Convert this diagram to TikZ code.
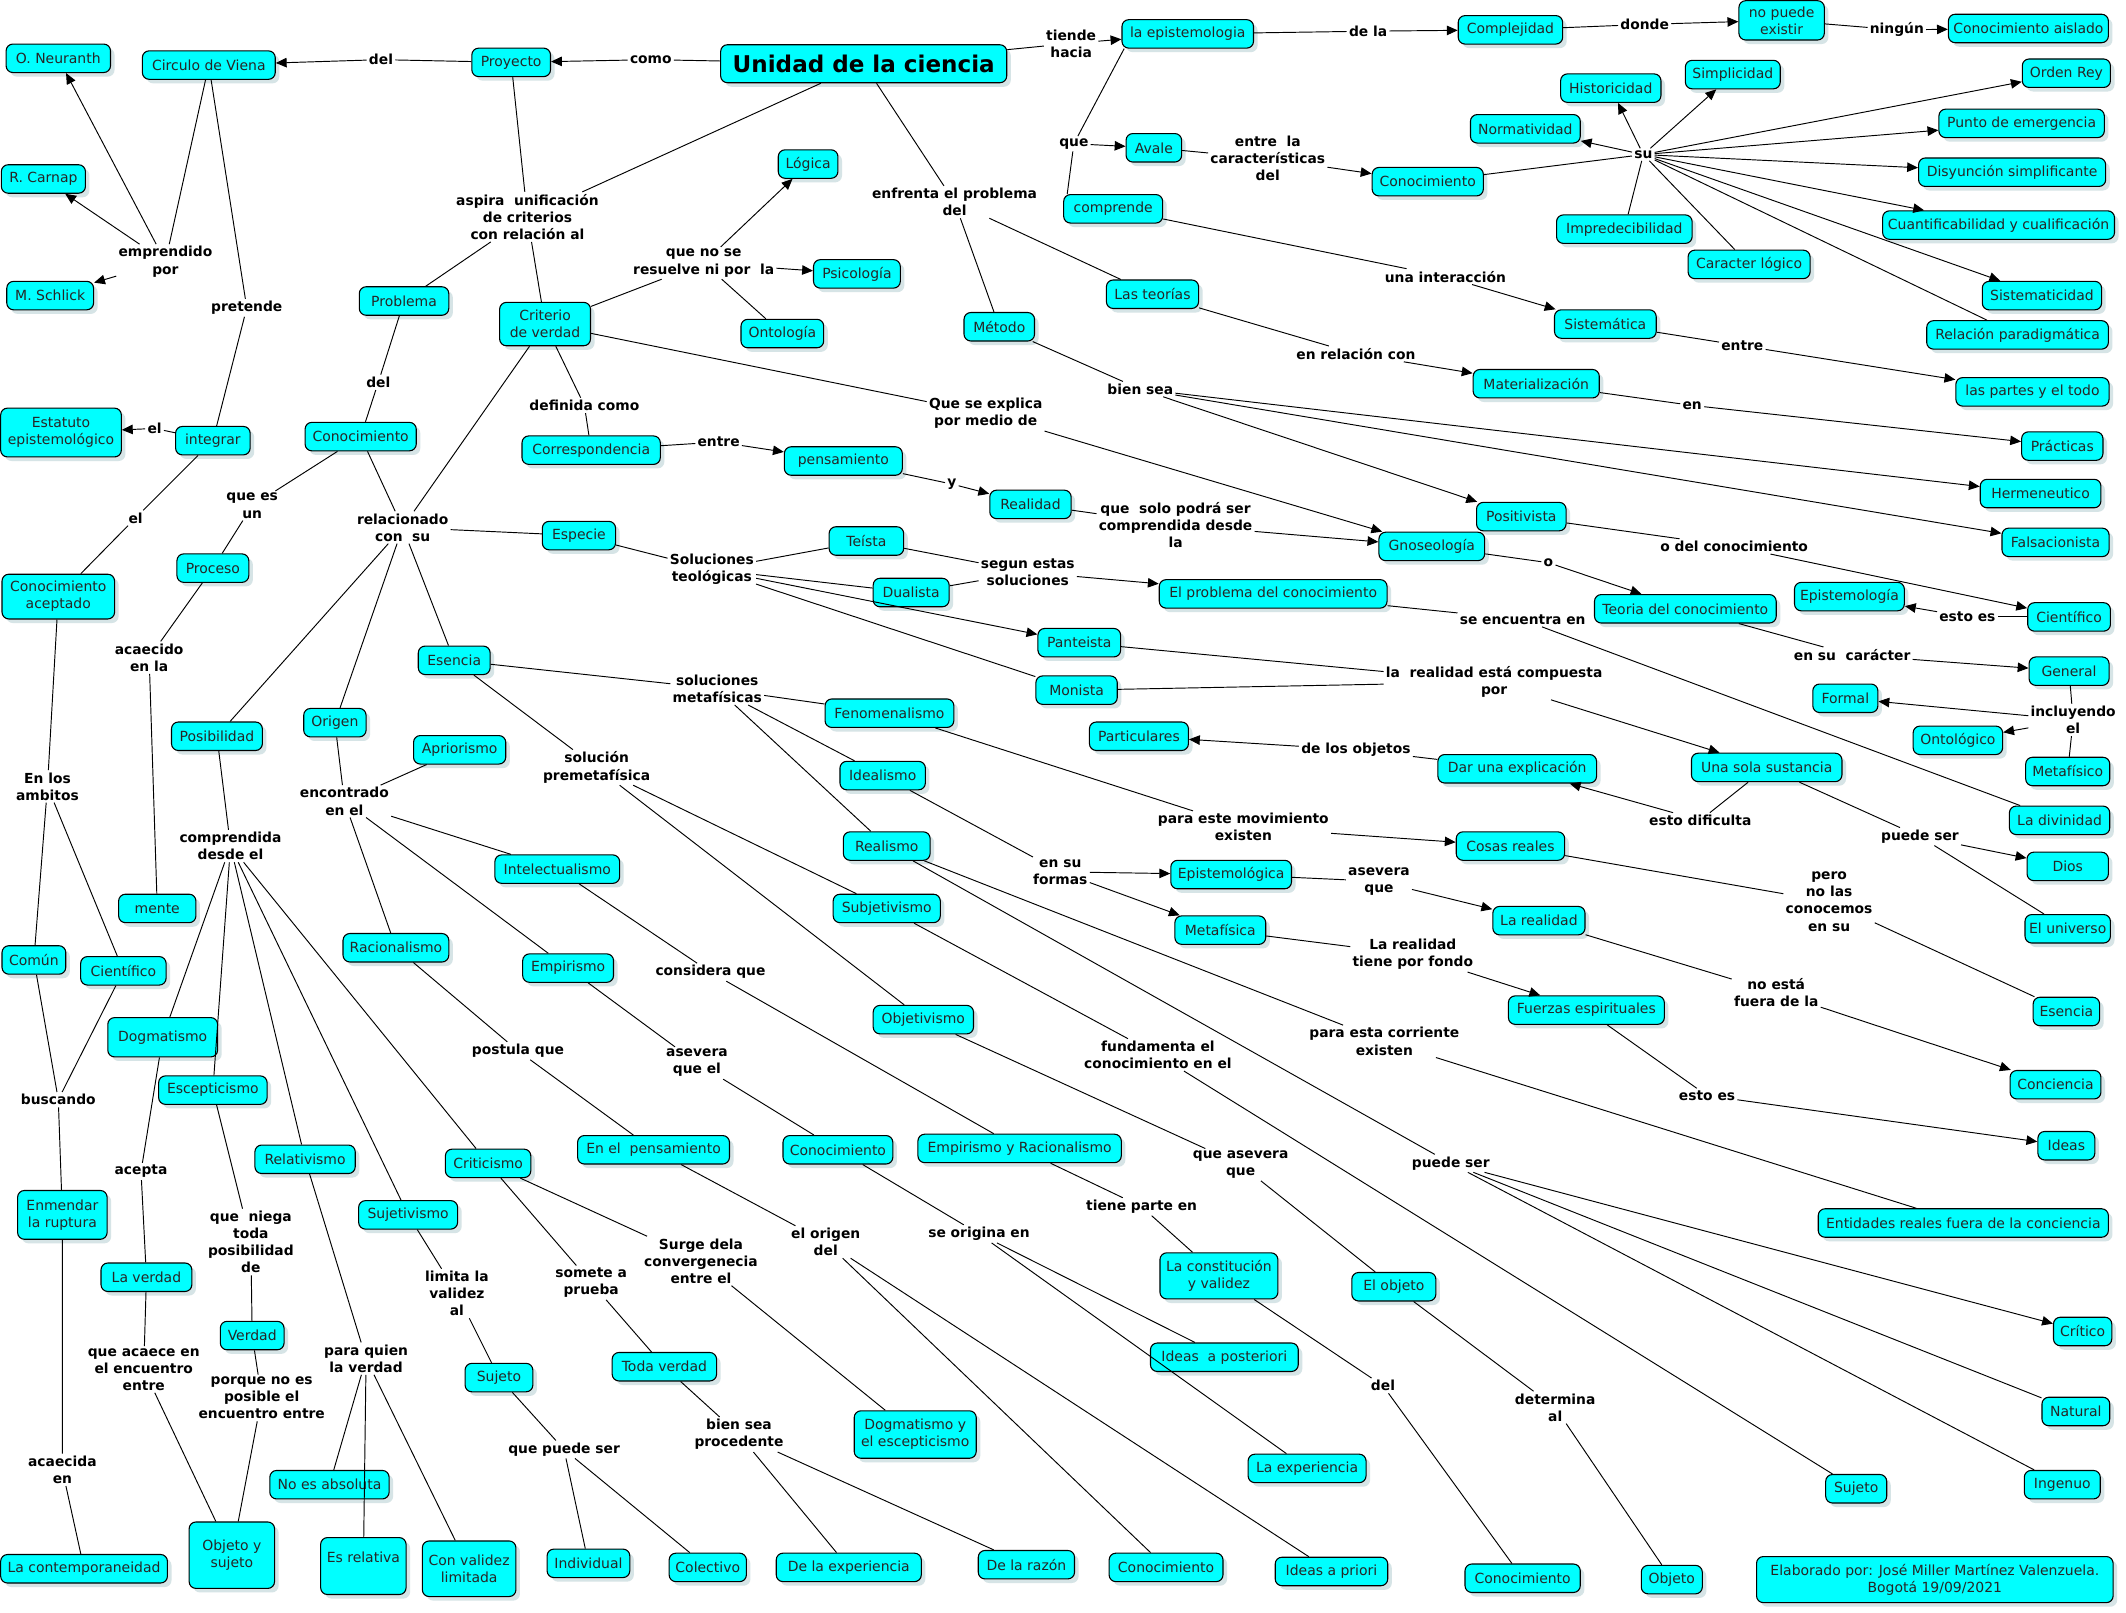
\documentclass[tikz,border=0pt]{standalone}
\usepackage{fontspec}
\setmainfont{DejaVu Sans}
\usetikzlibrary{arrows.meta,shadows}
\definecolor{conc}{RGB}{0,255,255}
\definecolor{sombra}{RGB}{214,228,230}

\begin{document}
\begin{tikzpicture}[x=1pt,y=-1pt,
    concepto/.style={draw=black,line width=0.8pt,fill=conc,rounded corners=5pt,
      font=\fontsize{10.3}{12.6}\selectfont,text=black!85,align=center,
      inner xsep=3pt,inner ysep=2pt,minimum height=21pt,
      drop shadow={shadow xshift=3pt,shadow yshift=-3pt,fill=sombra,opacity=1}},
    frase/.style={font=\fontsize{10.2}{12.6}\selectfont\bfseries,align=center,inner sep=1.5pt},
    linea/.style={line width=0.7pt},
    flecha/.style={line width=0.7pt,-{Triangle[length=8pt,width=7pt]}}]
    \fill[white] (0,0) rectangle (1568,1189);
    \useasboundingbox (0,0) rectangle (1568,1189);

    % Top: unidad, proyecto, circulo
    \node[concepto,font=\fontsize{17}{20}\selectfont\bfseries,text=black,minimum width=211pt,minimum height=28pt] (unidad) at (637,47) {Unidad de la ciencia};
    \node[concepto,minimum width=58pt] (proyecto) at (377,46) {Proyecto};
    \node[concepto,minimum width=98pt] (circulo) at (154,48) {Circulo de Viena};
    \node[concepto,minimum width=77pt] (neuranth) at (43,43) {O. Neuranth};
    \node[concepto,minimum width=62pt] (carnap) at (32,132) {R. Carnap};
    \node[concepto,minimum width=64pt] (schlick) at (37,218) {M. Schlick};
    \node[concepto,minimum width=89pt,minimum height=36pt] (estatuto) at (45,319) {Estatuto\\epistemológico};
    \node[concepto,minimum width=55pt] (integrar) at (157,325) {integrar};
    \node[concepto,minimum width=83pt,minimum height=33pt] (aceptado) at (43,440) {Conocimiento\\aceptado};
    \node[concepto,minimum width=47pt] (comun) at (25,708) {Común};
    \node[concepto,minimum width=63pt] (cientA) at (91,716) {Científico};
    \node[concepto,minimum width=66pt,minimum height=36pt] (enmendar) at (46,896) {Enmendar\\la ruptura};
    \node[concepto,minimum width=123pt] (contemp) at (62,1157) {La contemporaneidad};

    \node[frase] (del1) at (281,44) {del};
    \node[frase] (como) at (480,44) {como};
    \node[frase] (emprendido) at (122,193) {emprendido\\por};
    \node[frase] (pretende) at (182,227) {pretende};
    \node[frase] (el1) at (114,316) {el};
    \node[frase] (el2) at (100,382) {el};
    \node[frase] (ambitos) at (35,580) {En los\\ambitos};
    \node[frase] (buscando) at (43,811) {buscando};
    \node[frase] (acaecida) at (46,1084) {acaecida\\en};

    \draw[linea] (unidad) -- (como);
    \draw[flecha] (como) -- (proyecto);
    \draw[linea] (proyecto) -- (del1);
    \draw[flecha] (del1) -- (circulo);
    \draw[linea] (circulo) -- (emprendido);
    \draw[flecha] (emprendido) -- (neuranth);
    \draw[flecha] (emprendido) -- (carnap);
    \draw[flecha] (emprendido) -- (schlick);
    \draw[linea] (circulo) -- (pretende) -- (integrar);
    \draw[linea] (integrar) -- (el1);
    \draw[flecha] (el1) -- (estatuto);
    \draw[linea] (integrar) -- (el2) -- (aceptado);
    \draw[linea] (aceptado) -- (ambitos);
    \draw[linea] (ambitos) -- (comun);
    \draw[linea] (ambitos) -- (cientA);
    \draw[linea] (comun) -- (buscando);
    \draw[linea] (cientA) -- (buscando);
    \draw[linea] (buscando) -- (enmendar) -- (acaecida) -- (contemp);

    % Criterio de verdad y conocimiento
    \node[concepto,minimum width=66pt] (problema) at (298,222) {Problema};
    \node[concepto,minimum width=67pt,minimum height=32pt] (criterio) at (402,239) {Criterio\\de verdad};
    \node[concepto,minimum width=82pt] (conocL) at (266,322) {Conocimiento};
    \node[concepto,minimum width=53pt] (proceso) at (157,419) {Proceso};
    \node[concepto,minimum width=57pt] (mente) at (116,670) {mente};
    \node[concepto,minimum width=44pt] (logica) at (596,121) {Lógica};
    \node[concepto,minimum width=64pt] (psicologia) at (632,202) {Psicología};
    \node[concepto,minimum width=61pt] (ontologia) at (577,246) {Ontología};
    \node[concepto,minimum width=102pt] (corresp) at (436,332) {Correspondencia};
    \node[concepto,minimum width=87pt] (pensamiento) at (622,340) {pensamiento};
    \node[concepto,minimum width=60pt] (realidad) at (760,372) {Realidad};

    \node[frase] (aspira) at (389,160) {aspira\ \ unificación\\de criterios\\con relación al};
    \node[frase] (del2) at (279,282) {del};
    \node[frase] (quees) at (186,373) {que es\\un};
    \node[frase] (acaecido) at (110,485) {acaecido\\en la};
    \node[frase] (noresuelve) at (519,194) {que no se\\resuelve ni por\ \ la};
    \node[frase] (definida) at (431,299) {definida como};
    \node[frase] (entre1) at (530,326) {entre};
    \node[frase] (ly) at (702,357) {y};
    \node[frase] (seexplica) at (727,305) {Que se explica\\por medio de};
    \node[frase] (solopodra) at (867,387) {que\ \ solo podrá ser\\comprendida desde\\la};
    \node[frase] (relacionado) at (297,389) {relacionado\\con\ \ su};

    \draw[linea] (unidad) -- (aspira);
    \draw[linea] (proyecto) -- (aspira);
    \draw[linea] (aspira) -- (problema);
    \draw[linea] (aspira) -- (criterio);
    \draw[linea] (problema) -- (del2) -- (conocL);
    \draw[linea] (conocL) -- (quees) -- (proceso) -- (acaecido) -- (mente);
    \draw[linea] (criterio) -- (noresuelve);
    \draw[flecha] (noresuelve) -- (logica);
    \draw[flecha] (noresuelve) -- (psicologia);
    \draw[linea] (noresuelve) -- (ontologia);
    \draw[linea] (criterio) -- (definida) -- (corresp) -- (entre1);
    \draw[flecha] (entre1) -- (pensamiento);
    \draw[linea] (pensamiento) -- (ly);
    \draw[flecha] (ly) -- (realidad);
    \draw[linea] (criterio) -- (seexplica);
    \draw[linea] (realidad) -- (solopodra);
    \draw[linea] (conocL) -- (relacionado);
    \draw[linea] (criterio) -- (relacionado);

    % Arriba a la derecha: epistemologia y complejidad
    \node[concepto,minimum width=97pt] (epistemologia) at (876,25) {la epistemologia};
    \node[concepto,minimum width=77pt] (complejidad) at (1114,22) {Complejidad};
    \node[concepto,minimum width=63pt,minimum height=29pt] (nopuede) at (1314,15) {no puede\\existir};
    \node[concepto,minimum width=118pt] (aislado) at (1496,21) {Conocimiento aislado};
    \node[concepto,minimum width=41pt] (avale) at (851,109) {Avale};
    \node[concepto,minimum width=73pt] (comprende) at (821,154) {comprende};
    \node[concepto,minimum width=82pt] (conocR) at (1053,134) {Conocimiento};
    \node[concepto,minimum width=74pt] (historicidad) at (1188,65) {Historicidad};
    \node[concepto,minimum width=70pt] (simplicidad) at (1278,55) {Simplicidad};
    \node[concepto,minimum width=65pt] (ordenrey) at (1524,54) {Orden Rey};
    \node[concepto,minimum width=81pt] (normatividad) at (1125,95) {Normatividad};
    \node[concepto,minimum width=122pt] (punto) at (1491,91) {Punto de emergencia};
    \node[concepto,minimum width=138pt] (disyuncion) at (1484,127) {Disyunción simplificante};
    \node[concepto,minimum width=100pt] (impredecibilidad) at (1198,169) {Impredecibilidad};
    \node[concepto,minimum width=171pt] (cuantif) at (1474,166) {Cuantificabilidad y cualificación};
    \node[concepto,minimum width=90pt] (caracter) at (1290,195) {Caracter lógico};
    \node[concepto,minimum width=88pt] (sistematicidad) at (1506,218) {Sistematicidad};
    \node[concepto,minimum width=134pt] (relacion) at (1488,247) {Relación paradigmática};
    \node[concepto,minimum width=75pt] (sistematica) at (1184,239) {Sistemática};
    \node[concepto,minimum width=113pt] (partes) at (1499,289) {las partes y el todo};

    \node[frase] (tiende) at (790,32) {tiende\\hacia};
    \node[frase] (dela) at (1009,23) {de la};
    \node[frase] (donde) at (1213,18) {donde};
    \node[frase] (ningun) at (1399,22) {ningún};
    \node[frase] (que) at (792,106) {que};
    \node[frase] (entrela) at (935,117) {entre\ \ la\\características\\del};
    \node[frase] (su) at (1212,114) {su};
    \node[frase] (interaccion) at (1066,204) {una interacción};
    \node[frase] (entre2) at (1285,255) {entre};

    \draw[linea] (unidad) -- (tiende);
    \draw[flecha] (tiende) -- (epistemologia);
    \draw[linea] (epistemologia) -- (dela);
    \draw[flecha] (dela) -- (complejidad);
    \draw[linea] (complejidad) -- (donde);
    \draw[flecha] (donde) -- (nopuede);
    \draw[linea] (nopuede) -- (ningun);
    \draw[flecha] (ningun) -- (aislado);
    \draw[linea] ([xshift=2pt]epistemologia.south west) -- (que);
    \draw[flecha] (que) -- (avale);
    \draw[linea] (que) -- ([xshift=3pt]comprende.north west);
    \draw[linea] (avale) -- (entrela);
    \draw[flecha] (entrela) -- (conocR);
    \draw[linea] (conocR) -- (su);
    \draw[flecha] (su) -- (historicidad);
    \draw[flecha] (su) -- (simplicidad);
    \draw[flecha] (su) -- (ordenrey);
    \draw[flecha] (su) -- (normatividad);
    \draw[flecha] (su) -- (punto);
    \draw[flecha] (su) -- (disyuncion);
    \draw[flecha] (su) -- (cuantif);
    \draw[flecha] (su) -- (sistematicidad);
    \draw[linea] (su) -- (impredecibilidad);
    \draw[linea] (su) -- (caracter);
    \draw[linea] (su) -- (relacion);
    \draw[linea] (comprende) -- (interaccion);
    \draw[flecha] (interaccion) -- (sistematica);
    \draw[linea] (sistematica) -- (entre2);
    \draw[flecha] (entre2) -- (partes);

    % Metodo, teorias y gnoseologia
    \node[concepto,minimum width=52pt] (metodo) at (737,241) {Método};
    \node[concepto,minimum width=68pt] (teorias) at (850,217) {Las teorías};
    \node[concepto,minimum width=93pt] (materializacion) at (1133,283) {Materialización};
    \node[concepto,minimum width=60pt] (practicas) at (1521,329) {Prácticas};
    \node[concepto,minimum width=66pt] (positivista) at (1122,381) {Positivista};
    \node[concepto,minimum width=89pt] (hermeneutico) at (1505,364) {Hermeneutico};
    \node[concepto,minimum width=79pt] (falsacionista) at (1516,400) {Falsacionista};
    \node[concepto,minimum width=78pt] (gnoseologia) at (1056,403) {Gnoseología};
    \node[concepto,minimum width=134pt] (teoria) at (1243,449) {Teoria del conocimiento};
    \node[concepto,minimum width=81pt] (epistemologiaR) at (1364,440) {Epistemología};
    \node[concepto,minimum width=61pt] (cientR) at (1526,455) {Científico};
    \node[concepto,minimum width=59pt] (general) at (1526,495) {General};
    \node[concepto,minimum width=48pt] (formal) at (1361,515) {Formal};
    \node[concepto,minimum width=66pt] (ontologico) at (1444,546) {Ontológico};
    \node[concepto,minimum width=62pt] (metafisico) at (1525,569) {Metafísico};

    \node[frase] (enfrenta) at (704,149) {enfrenta el problema\\del};
    \node[frase] (biensea) at (841,287) {bien sea};
    \node[frase] (enrelacion) at (1000,261) {en relación con};
    \node[frase] (en) at (1248,299) {en};
    \node[frase] (lo) at (1142,415) {o};
    \node[frase] (odel) at (1279,403) {o del conocimiento};
    \node[frase] (estoes1) at (1451,455) {esto es};
    \node[frase] (encaracter) at (1366,483) {en su\ \ carácter};
    \node[frase] (incluyendo) at (1529,531) {incluyendo\\el};

    \draw[linea] (unidad) -- (enfrenta);
    \draw[linea] (enfrenta) -- (metodo);
    \draw[linea] (enfrenta) -- (teorias);
    \draw[linea] (metodo) -- (biensea);
    \draw[flecha] (biensea) -- (positivista);
    \draw[flecha] (biensea) -- (hermeneutico);
    \draw[flecha] (biensea) -- (falsacionista);
    \draw[linea] (teorias) -- (enrelacion);
    \draw[flecha] (enrelacion) -- (materializacion);
    \draw[linea] (materializacion) -- (en);
    \draw[flecha] (en) -- (practicas);
    \draw[flecha] (seexplica) -- (gnoseologia);
    \draw[flecha] (solopodra) -- (gnoseologia);
    \draw[linea] (gnoseologia) -- (lo);
    \draw[flecha] (lo) -- (teoria);
    \draw[linea] (positivista) -- (odel);
    \draw[flecha] (odel) -- (cientR);
    \draw[linea] (cientR) -- (estoes1);
    \draw[flecha] (estoes1) -- (epistemologiaR);
    \draw[linea] (teoria) -- (encaracter);
    \draw[flecha] (encaracter) -- (general);
    \draw[linea] (general) -- (incluyendo);
    \draw[flecha] (incluyendo) -- (formal);
    \draw[flecha] (incluyendo) -- (ontologico);
    \draw[linea] (incluyendo) -- (metafisico);

    % Especie: soluciones teologicas
    \node[concepto,minimum width=54pt] (especie) at (427,395) {Especie};
    \node[concepto,minimum width=55pt] (teista) at (639,399) {Teísta};
    \node[concepto,minimum width=56pt] (dualista) at (672,437) {Dualista};
    \node[concepto,minimum width=61pt] (panteista) at (796,474) {Panteista};
    \node[concepto,minimum width=60pt] (monista) at (794,509) {Monista};
    \node[concepto,minimum width=168pt] (problemaconoc) at (939,438) {El problema del conocimiento};
    \node[concepto,minimum width=74pt] (divinidad) at (1519,605) {La divinidad};
    \node[concepto,minimum width=111pt] (sustancia) at (1303,566) {Una sola sustancia};
    \node[concepto,minimum width=117pt] (explicacion) at (1119,567) {Dar una explicación};
    \node[concepto,minimum width=73pt] (particulares) at (840,543) {Particulares};
    \node[concepto,minimum width=60pt] (dios) at (1525,639) {Dios};
    \node[concepto,minimum width=63pt] (universo) at (1525,685) {El universo};

    \node[frase] (teologicas) at (525,420) {Soluciones\\teológicas};
    \node[frase] (segun) at (758,422) {segun estas\\soluciones};
    \node[frase] (seencuentra) at (1123,457) {se encuentra en};
    \node[frase] (compuesta) at (1102,503) {la\ \ realidad está compuesta\\por};
    \node[frase] (dificulta) at (1254,605) {esto dificulta};
    \node[frase] (delosobjetos) at (1000,553) {de los objetos};
    \node[frase] (puedeser1) at (1416,617) {puede ser};

    \draw[linea] (relacionado) -- (especie);
    \draw[linea] (especie) -- (teologicas);
    \draw[linea] (teologicas) -- (teista);
    \draw[linea] (teologicas) -- (dualista);
    \draw[flecha] (teologicas) -- (panteista);
    \draw[linea] (teologicas) -- (monista);
    \draw[linea] (teista) -- (segun);
    \draw[linea] (dualista) -- (segun);
    \draw[flecha] (segun) -- (problemaconoc);
    \draw[linea] (problemaconoc) -- (seencuentra) -- (divinidad);
    \draw[linea] (panteista) -- (compuesta);
    \draw[linea] (monista) -- (compuesta);
    \draw[flecha] (compuesta) -- (sustancia);
    \draw[linea] (sustancia) -- (dificulta);
    \draw[flecha] (dificulta) -- (explicacion);
    \draw[linea] (explicacion) -- (delosobjetos);
    \draw[flecha] (delosobjetos) -- (particulares);
    \draw[linea] (sustancia) -- (puedeser1);
    \draw[flecha] (puedeser1) -- (dios);
    \draw[linea] (puedeser1) -- (universo);

    % Esencia: soluciones metafisicas y premetafisica
    \node[concepto,minimum width=53pt] (esenciaL) at (335,487) {Esencia};
    \node[concepto,minimum width=95pt] (fenomenalismo) at (656,526) {Fenomenalismo};
    \node[concepto,minimum width=63pt] (idealismo) at (651,572) {Idealismo};
    \node[concepto,minimum width=64pt] (realismo) at (654,624) {Realismo};
    \node[concepto,minimum width=79pt] (subjetivismo) at (654,670) {Subjetivismo};
    \node[concepto,minimum width=74pt] (objetivismo) at (681,752) {Objetivismo};
    \node[concepto,minimum width=80pt] (cosas) at (1114,624) {Cosas reales};
    \node[concepto,minimum width=49pt] (esenciaR) at (1524,746) {Esencia};
    \node[concepto,minimum width=89pt] (epistemologica) at (908,645) {Epistemológica};
    \node[concepto,minimum width=67pt] (metafisica) at (900,686) {Metafísica};
    \node[concepto,minimum width=68pt] (larealidad) at (1135,679) {La realidad};
    \node[concepto,minimum width=67pt] (conciencia) at (1516,800) {Conciencia};
    \node[concepto,minimum width=115pt] (fuerzas) at (1170,745) {Fuerzas espirituales};
    \node[concepto,minimum width=42pt] (ideas) at (1524,845) {Ideas};
    \node[concepto,minimum width=214pt] (entidades) at (1448,902) {Entidades reales fuera de la conciencia};
    \node[concepto,minimum width=43pt] (critico) at (1536,982) {Crítico};
    \node[concepto,minimum width=50pt] (natural) at (1531,1041) {Natural};
    \node[concepto,minimum width=56pt] (ingenuo) at (1521,1095) {Ingenuo};
    \node[concepto,minimum width=45pt] (sujetoR) at (1369,1098) {Sujeto};
    \node[concepto,minimum width=62pt] (elobjeto) at (1028,949) {El objeto};
    \node[concepto,minimum width=45pt] (objeto) at (1233,1165) {Objeto};

    \node[frase] (metafisicas) at (529,508) {soluciones\\metafísicas};
    \node[frase] (premetafisica) at (440,566) {solución\\premetafísica};
    \node[frase] (movimiento) at (917,610) {para este movimiento\\existen};
    \node[frase] (pero) at (1349,665) {pero\\no las\\conocemos\\en su};
    \node[frase] (formas) at (782,643) {en su\\formas};
    \node[frase] (asevera1) at (1017,650) {asevera\\que};
    \node[frase] (noesta) at (1310,732) {no está\\fuera de la};
    \node[frase] (fondo) at (1042,704) {La realidad\\tiene por fondo};
    \node[frase] (estoes2) at (1259,808) {esto es};
    \node[frase] (corriente) at (1021,768) {para esta corriente\\existen};
    \node[frase] (puedeser2) at (1070,858) {puede ser};
    \node[frase] (fundamenta) at (854,778) {fundamenta el\\conocimiento en el};
    \node[frase] (queasevera) at (915,859) {que asevera\\que};
    \node[frase] (determina) at (1147,1038) {determina\\al};

    \draw[linea] (relacionado) -- (esenciaL);
    \draw[linea] (esenciaL) -- (metafisicas);
    \draw[linea] (metafisicas) -- (fenomenalismo);
    \draw[linea] (metafisicas) -- (idealismo);
    \draw[linea] (metafisicas) -- (realismo);
    \draw[linea] (esenciaL) -- (premetafisica);
    \draw[linea] (premetafisica) -- (subjetivismo);
    \draw[linea] (premetafisica) -- (objetivismo);
    \draw[linea] (fenomenalismo) -- (movimiento);
    \draw[flecha] (movimiento) -- (cosas);
    \draw[linea] (cosas) -- (pero) -- (esenciaR);
    \draw[linea] (idealismo) -- (formas);
    \draw[flecha] (formas) -- (epistemologica);
    \draw[flecha] (formas) -- (metafisica);
    \draw[linea] (epistemologica) -- (asevera1);
    \draw[flecha] (asevera1) -- (larealidad);
    \draw[linea] (larealidad) -- (noesta);
    \draw[flecha] (noesta) -- (conciencia);
    \draw[linea] (metafisica) -- (fondo);
    \draw[flecha] (fondo) -- (fuerzas);
    \draw[linea] (fuerzas) -- (estoes2);
    \draw[flecha] (estoes2) -- (ideas);
    \draw[linea] (realismo) -- (corriente) -- (entidades);
    \draw[linea] (realismo) -- (puedeser2);
    \draw[flecha] (puedeser2) -- (critico);
    \draw[linea] (puedeser2) -- (natural);
    \draw[linea] (puedeser2) -- (ingenuo);
    \draw[linea] (subjetivismo) -- (fundamenta) -- (sujetoR);
    \draw[linea] (objetivismo) -- (queasevera) -- (elobjeto) -- (determina) -- (objeto);

    % Origen
    \node[concepto,minimum width=46pt] (origen) at (247,533) {Origen};
    \node[concepto,minimum width=68pt] (apriorismo) at (339,553) {Apriorismo};
    \node[concepto,minimum width=92pt] (intelectualismo) at (411,641) {Intelectualismo};
    \node[concepto,minimum width=67pt] (empirismo) at (419,714) {Empirismo};
    \node[concepto,minimum width=78pt] (racionalismo) at (292,699) {Racionalismo};
    \node[concepto,minimum width=112pt] (pensamientoB) at (482,848) {En el\ \ pensamiento};
    \node[concepto,minimum width=81pt] (conocM) at (618,848) {Conocimiento};
    \node[concepto,minimum width=150pt] (eyr) at (752,847) {Empirismo y Racionalismo};
    \node[concepto,minimum width=87pt,minimum height=34pt] (constitucion) at (899,941) {La constitución\\y validez};
    \node[concepto,minimum width=109pt] (posteriori) at (903,1001) {Ideas\ \ a posteriori};
    \node[concepto,minimum width=87pt] (experiencia) at (964,1083) {La experiencia};
    \node[concepto,minimum width=84pt] (conocB1) at (860,1156) {Conocimiento};
    \node[concepto,minimum width=83pt] (apriori) at (982,1159) {Ideas a priori};
    \node[concepto,minimum width=85pt] (conocB2) at (1123,1164) {Conocimiento};

    \node[frase] (encontrado) at (254,591) {encontrado\\en el};
    \node[frase] (considera) at (524,717) {considera que};
    \node[frase] (postula) at (382,775) {postula que};
    \node[frase] (aseveraque) at (514,784) {asevera\\que el};
    \node[frase] (origen2) at (609,916) {el origen\\del};
    \node[frase] (seorigina) at (722,910) {se origina en};
    \node[frase] (tieneparte) at (842,890) {tiene parte en};
    \node[frase] (del3) at (1020,1022) {del};

    \draw[linea] (relacionado) -- (origen);
    \draw[linea] (origen) -- (encontrado);
    \draw[linea] (encontrado) -- (apriorismo);
    \draw[linea] (encontrado) -- (intelectualismo);
    \draw[linea] (encontrado) -- (empirismo);
    \draw[linea] (encontrado) -- (racionalismo);
    \draw[linea] (intelectualismo) -- (considera) -- (eyr);
    \draw[linea] (eyr) -- (tieneparte) -- (constitucion) -- (del3) -- (conocB2);
    \draw[linea] (racionalismo) -- (postula) -- (pensamientoB) -- (origen2);
    \draw[linea] (origen2) -- (conocB1);
    \draw[linea] (origen2) -- (apriori);
    \draw[linea] (empirismo) -- (aseveraque) -- (conocM) -- (seorigina);
    \draw[linea] (seorigina) -- (experiencia);
    \draw[linea] (seorigina) -- (posteriori);

    % Posibilidad
    \node[concepto,minimum width=67pt] (posibilidad) at (160,543) {Posibilidad};
    \node[concepto,minimum width=81pt,minimum height=29pt] (dogmatismo) at (120,765) {Dogmatismo};
    \node[concepto,minimum width=80pt] (escepticismo) at (157,804) {Escepticismo};
    \node[concepto,minimum width=74pt] (relativismo) at (225,855) {Relativismo};
    \node[concepto,minimum width=73pt] (sujetivismo) at (301,896) {Sujetivismo};
    \node[concepto,minimum width=63pt] (criticismo) at (360,858) {Criticismo};
    \node[concepto,minimum width=67pt] (laverdad) at (108,942) {La verdad};
    \node[concepto,minimum width=47pt] (verdad) at (186,985) {Verdad};
    \node[concepto,minimum width=63pt,minimum height=49pt] (objsuj) at (171,1147) {Objeto y\\sujeto};
    \node[concepto,minimum width=88pt] (noabsoluta) at (243,1095) {No es absoluta};
    \node[concepto,minimum width=63pt,minimum height=42pt] (esrelativa) at (268,1155) {Es relativa\\\mbox{}};
    \node[concepto,minimum width=69pt,minimum height=41pt] (convalidez) at (346,1157) {Con validez\\limitada};
    \node[concepto,minimum width=50pt] (sujetoL) at (368,1016) {Sujeto};
    \node[concepto,minimum width=61pt] (individual) at (434,1153) {Individual};
    \node[concepto,minimum width=57pt] (colectivo) at (522,1156) {Colectivo};
    \node[concepto,minimum width=77pt] (toda) at (490,1008) {Toda verdad};
    \node[concepto,minimum width=107pt] (deexp) at (626,1156) {De la experiencia};
    \node[concepto,minimum width=71pt] (derazon) at (757,1154) {De la razón};
    \node[concepto,minimum width=90pt,minimum height=35pt] (dogesc) at (675,1058) {Dogmatismo y\\el escepticismo};

    \node[frase] (comprendida) at (170,624) {comprendida\\desde el};
    \node[frase] (acepta) at (104,864) {acepta};
    \node[frase] (acaece) at (106,1010) {que acaece en\\el encuentro\\entre};
    \node[frase] (niega) at (185,916) {que\ \ niega\\toda\\posibilidad\\de};
    \node[frase] (porque) at (193,1031) {porque no es\\posible el\\encuentro entre};
    \node[frase] (paraquien) at (270,1002) {para quien\\la verdad};
    \node[frase] (limita) at (337,954) {limita la\\validez\\al};
    \node[frase] (quepuede) at (416,1069) {que puede ser};
    \node[frase] (somete) at (436,946) {somete a\\prueba};
    \node[frase] (procedente) at (545,1058) {bien sea\\procedente};
    \node[frase] (surge) at (517,930) {Surge dela\\convergenecia\\entre el};

    \draw[linea] (relacionado) -- (posibilidad);
    \draw[linea] (posibilidad) -- (comprendida);
    \draw[linea] (comprendida) -- (dogmatismo);
    \draw[linea] (comprendida) -- (escepticismo);
    \draw[linea] (comprendida) -- (relativismo);
    \draw[linea] (comprendida) -- (sujetivismo);
    \draw[linea] (comprendida) -- (criticismo);
    \draw[linea] (dogmatismo) -- (acepta) -- (laverdad) -- (acaece) -- (objsuj);
    \draw[linea] (escepticismo) -- (niega) -- (verdad) -- (porque) -- (objsuj);
    \draw[linea] (relativismo) -- (paraquien);
    \draw[linea] (paraquien) -- (noabsoluta);
    \draw[linea] (paraquien) -- (esrelativa);
    \draw[linea] (paraquien) -- (convalidez);
    \draw[linea] (sujetivismo) -- (limita) -- (sujetoL) -- (quepuede);
    \draw[linea] (quepuede) -- (individual);
    \draw[linea] (quepuede) -- (colectivo);
    \draw[linea] (criticismo) -- (somete) -- (toda) -- (procedente);
    \draw[linea] (procedente) -- (deexp);
    \draw[linea] (procedente) -- (derazon);
    \draw[linea] (criticismo) -- (surge) -- (dogesc);

    % Autor
    \node[concepto,minimum width=263pt,minimum height=34pt] (elaborado) at (1427,1165) {Elaborado por: José Miller Martínez Valenzuela.\\Bogotá 19/09/2021};
\end{tikzpicture}
\end{document}
